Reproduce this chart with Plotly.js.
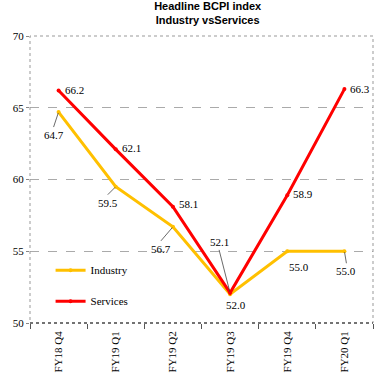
<!DOCTYPE html>
<html><head><meta charset="utf-8">
<script src="https://cdn.plot.ly/plotly-3.0.1.min.js"></script>
<style>html,body{margin:0;padding:0;background:#fff}#c{width:381px;height:385px}</style>
</head><body><div id="c"></div>
<script>
const categories = ["FY18 Q4","FY19 Q1","FY19 Q2","FY19 Q3","FY19 Q4","FY20 Q1"];
const industry = [64.7, 59.5, 56.7, 52.0, 55.0, 55.0];
const services = [66.2, 62.1, 58.1, 52.1, 58.9, 66.3];
const industryLabels = ["64.7","59.5","56.7","52.0","55.0","55.0"];
const servicesLabels = ["66.2","62.1","58.1","52.1","58.9","66.3"];

// label offsets (pixels) [ax, ay, showarrow]
const indOff = [[-5,15,true],[-8,8,true],[-12,14,true],[6,11,false],[12,8,true],[2,12,true]];
const srvOff = [[16,-1,false],[16,-1,false],[16,-3,false],[-11,-43,true],[16,-1,false],[16,0,false]];

const serif = "Liberation Serif";
const anns = [];
function addAnn(i, val, lab, off){
  const a = {x: categories[i], y: val, xref:'x', yref:'y', text: lab,
    font:{family:serif, size:11, color:'#000'}};
  if (off[2]) {
    Object.assign(a, {showarrow:true, arrowhead:0, arrowwidth:0.8, arrowcolor:'#444',
      ax: off[0], ay: off[1], standoff:1, xanchor:'center', yanchor: off[1] > 0 ? 'top' : 'bottom'});
  } else {
    Object.assign(a, {showarrow:false, xshift: off[0], yshift: -off[1], xanchor:'center'});
  }
  anns.push(a);
}
industry.forEach((v,i)=>addAnn(i,v,industryLabels[i],indOff[i]));
services.forEach((v,i)=>addAnn(i,v,servicesLabels[i],srvOff[i]));

const data = [
  {x: categories, y: industry, name: 'Industry', type:'scatter', mode:'lines+markers',
   line:{color:'#FFC000', width:3}, marker:{size:4, color:'#FFC000'}, legendgroup:'a'},
  {x: categories, y: services, name: 'Services', type:'scatter', mode:'lines+markers',
   line:{color:'#FF0000', width:3}, marker:{size:4, color:'#FF0000'}, legendgroup:'b'}
];

const layout = {
  width:381, height:385,
  margin:{l:30, r:8, t:36, b:62},
  paper_bgcolor:'#fff', plot_bgcolor:'#fff',
  title:{text:'<b>Headline BCPI index<br>Industry vsServices</b>', x:0.545, xanchor:'center', y:0.975, yanchor:'top',
    font:{family:'Liberation Sans', size:11, color:'#000'}},
  showlegend:true,
  legend:{x:0.06, y:0.13, xanchor:'left', yanchor:'middle', bgcolor:'rgba(0,0,0,0)',
    font:{family:serif, size:11, color:'#000'}, tracegroupgap:12, itemwidth:30},
  xaxis:{type:'category', range:[-0.5,5.5], tickson:'boundaries', ticks:'outside', ticklen:5, tickcolor:'#555',
    tickangle:-90, ticklabelstandoff:5, tickfont:{family:serif, size:11, color:'#000'}, showgrid:false,
    showline:false, zeroline:false, fixedrange:true},
  yaxis:{range:[50,70], dtick:5, ticks:'outside', ticklen:3, tickcolor:'#888',
    tickfont:{family:serif, size:11, color:'#000'}, showgrid:true, gridcolor:'#aaa', griddash:'dash',
    gridwidth:1, zeroline:false, showline:false, fixedrange:true},
  shapes:[
    {type:'rect', xref:'paper', yref:'paper', x0:0, x1:1, y0:0, y1:1, line:{color:'#999', width:1, dash:'dot'}},
    {type:'line', xref:'paper', yref:'paper', x0:0, x1:1, y0:0, y1:0, line:{color:'#555', width:1.5, dash:'dot'}}
  ],
  annotations: anns
};
Plotly.newPlot('c', data, layout, {displayModeBar:false, staticPlot:true});
</script></body></html>
